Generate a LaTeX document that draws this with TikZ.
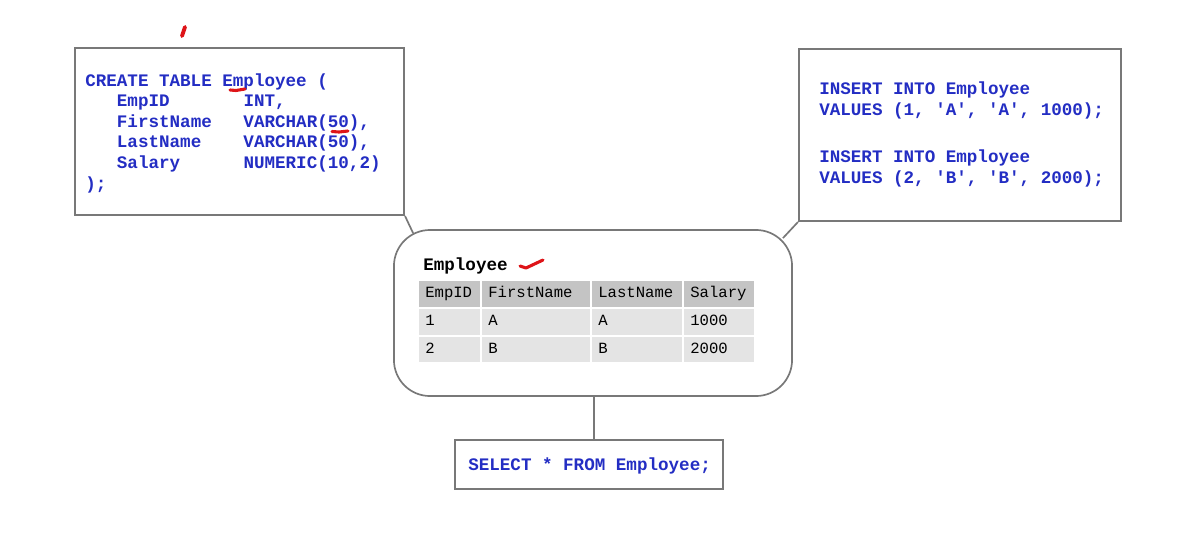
\documentclass[tikz,border=0pt]{standalone}
\usepackage{fontspec}
\setmonofont{Liberation Mono}
\usepackage{tikz}
\usetikzlibrary{calc,positioning,matrix}
\definecolor{codeblue}{RGB}{35,45,195}
\definecolor{framegray}{RGB}{120,120,120}
\definecolor{hdrgray}{RGB}{196,196,196}
\definecolor{rowgray}{RGB}{228,228,228}
\definecolor{penred}{RGB}{222,20,24}
\frenchspacing

\begin{document}
\begin{tikzpicture}[
                x=0.025cm, y=-0.025cm,
                sqlbox/.style={draw=framegray, line width=1.4pt, inner sep=0pt},
                code/.style={anchor=base west, inner sep=0pt, text=codeblue,
                    font=\fontsize{12.5}{15}\selectfont\ttfamily\bfseries},
                cell/.style={fill=rowgray, inner xsep=0.15cm, inner ysep=0pt, align=left,
                    minimum height=0.64cm, text height=7.5pt, text depth=2pt,
                    font=\fontsize{11.1}{13}\selectfont\ttfamily},
                pen/.style={penred, line width=2.2pt, line cap=round, line join=round}
            ]
                \useasboundingbox (0,0) rectangle (1193,547);
                % the three statements and the table
                \node [sqlbox, minimum width=8.225cm, minimum height=4.175cm] (create) at (239.5,131.5) {};
                \node [sqlbox, minimum width=8.05cm, minimum height=4.3cm] (insert) at (960,135) {};
                \node [sqlbox, line width=1.2pt, rounded corners=0.9cm, minimum width=9.95cm, minimum height=4.15cm] (tbl) at (593,313) {};
                \node [sqlbox, minimum width=6.7cm, minimum height=1.225cm] (select) at (589,464.5) {};
                \draw [framegray, line width=1.2pt] (create.south east) -- ([xshift=0.5cm,yshift=-0.1cm]tbl.north west);
                \draw [framegray, line width=1.2pt] (insert.south west) -- ([xshift=-0.25cm,yshift=-0.225cm]tbl.north east);
                \draw [framegray, line width=1.2pt] (tbl.south -| 594,0) -- (select.north -| 594,0);
                \foreach \line [count=\i] in {
                    {CREATE TABLE Employee (},
                    {~~~EmpID~~~~~~~INT,},
                    {~~~FirstName~~~VARCHAR(50),},
                    {~~~LastName~~~~VARCHAR(50),},
                    {~~~Salary~~~~~~NUMERIC(10,2)},
                    {);}} {
                    \node [code] (c\i) at (85,65.5+20.6*\i) {\line};
                }
                \node [code] (ins1) at (819,94) {INSERT INTO Employee};
                \node [code] (val1) at (819,115) {VALUES (1, 'A', 'A', 1000);};
                \node [code] (ins2) at (819,162) {INSERT INTO Employee};
                \node [code] (val2) at (819,183) {VALUES (2, 'B', 'B', 2000);};
                \node [code] (sel) at (468,470) {SELECT * FROM Employee;};
                \node [code, text=black] (title) at (423,270) {Employee};
                \matrix (emp) [matrix of nodes, anchor=north west, inner sep=0pt,
                    column sep=0.05cm, row sep=0.05cm, nodes={cell},
                    row 1/.style={nodes={fill=hdrgray}},
                    column 1/.style={nodes={text width=1.225cm}},
                    column 2/.style={nodes={text width=2.4cm}},
                    column 3/.style={nodes={text width=1.95cm}},
                    column 4/.style={nodes={text width=1.45cm}}] at (419,281) {
                    EmpID & FirstName & LastName & Salary\\
                    1 & A & A & 1000\\
                    2 & B & B & 2000\\
                };
                % pen marks
                \draw [pen, line width=2.8pt] (182,36) -- (185,27);
                \draw [pen] (230,90) -- (236,90.5) -- (245,89);
                \draw [pen] (332,131.5) -- (339,132) -- (348,131);
                \draw [pen] (520,266) -- (526,268) -- (543,260);
            \end{tikzpicture}
\end{document}
